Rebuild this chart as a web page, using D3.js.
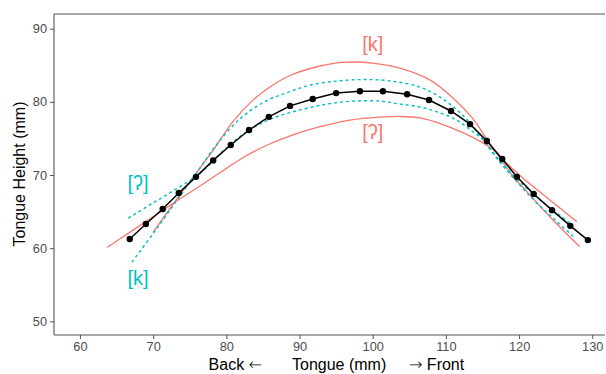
<!DOCTYPE html>
<html>
<head>
<meta charset="utf-8">
<script src="https://cdn.jsdelivr.net/npm/d3@7"></script>
<style>
  body { margin: 0; background: #fff; }
  text { font-family: "Liberation Sans", Arial, sans-serif; }
</style>
</head>
<body>
<div class="canvas"></div>
<script>
// mean tongue contour (black)
var meanCurve = [[66.8,61.25],[69.0,63.3],[71.3,65.35],[73.5,67.55],[75.85,69.75],[78.2,72.0],[80.6,74.1],
  [83.1,76.15],[85.8,77.95],[88.7,79.45],[91.8,80.4],[95.0,81.2],[98.25,81.45],[101.4,81.45],[104.7,81.05],
  [107.7,80.25],[110.7,78.75],[113.3,76.95],[115.6,74.65],[117.7,72.2],[119.7,69.75],[122.0,67.4],
  [124.5,65.2],[127.0,63.05],[129.4,61.1]];

// red pair
var redK = [[70.0,62.2],[73.0,66.4],[76.0,70.4],[78.2,73.4],[80.9,77.3],[83.6,80.2],[85.9,82.0],[88.7,83.6],
  [92.4,84.8],[95.9,85.4],[100.0,85.3],[103.7,84.6],[107.8,83.0],[111.0,80.5],[113.6,77.8],[115.6,74.9],
  [117.4,72.3],[119.2,69.8],[121.0,67.8],[124.2,64.3],[128.3,60.2]];
var redGlottal = [[63.7,60.1],[67.0,62.3],[70.0,64.3],[73.0,66.3],[76.4,68.5],[79.1,70.3],[82.3,72.4],
  [85.6,74.1],[89.1,75.5],[92.8,76.6],[96.9,77.5],[101.0,77.9],[104.0,78.0],[106.5,77.8],[109.6,76.9],
  [112.3,75.8],[114.7,74.6],[116.4,73.5],[117.8,72.1],[120.5,69.6],[124.2,66.6],[127.9,63.6]];

// cyan pair
var cyanK = [[67.1,58.1],[70.0,62.0],[73.0,66.2],[76.0,70.4],[78.7,74.2],[81.9,77.7],[85.2,80.0],[88.4,81.3],
  [91.5,82.3],[95.2,82.85],[98.9,83.05],[102.5,82.85],[106.5,82.0],[109.2,80.65],[111.5,78.9],[113.3,77.1],
  [115.1,74.8],[117.0,72.2],[119.5,69.3],[122.0,66.6],[125.0,63.8],[127.5,61.5]];
var cyanGlottal = [[66.6,64.1],[70.0,66.2],[73.0,68.0],[76.4,70.2],[80.1,73.8],[83.2,76.2],[86.4,77.8],
  [90.1,78.9],[93.8,79.7],[97.3,80.1],[101.0,80.1],[103.7,79.7],[106.5,79.3],[109.2,78.5],[111.5,77.5],
  [113.3,76.2],[115.1,74.8],[117.0,72.4],[119.5,69.7],[122.0,67.3],[124.5,65.3],[127.0,63.4]];

var xTicks = [60, 70, 80, 90, 100, 110, 120, 130];
var yTicks = [50, 60, 70, 80, 90];
var labels = [
  {text: "[k]", x: 100.0, y: 87.77, color: "#F8766D"},
  {text: "[ʔ]", x: 100.0, y: 75.74, color: "#F8766D"},
  {text: "[ʔ]", x: 67.93, y: 68.77, color: "#00BFC4"},
  {text: "[k]", x: 67.93, y: 55.78, color: "#00BFC4"}
];

var width = 606, height = 374;
var mLeft = 54, mRight = 605, mTop = 14, mBottom = 335;

var svg = d3.select(".canvas").append("svg").attr("width", width).attr("height", height);

var x = d3.scaleLinear().domain([56.45, 131.74]).range([mLeft, mRight]);
var y = d3.scaleLinear().domain([48.13, 92.01]).range([mBottom, mTop]);

var xAxis = d3.axisBottom(x).tickValues(xTicks).tickSize(4).tickPadding(3);
var yAxis = d3.axisLeft(y).tickValues(yTicks).tickSize(4).tickPadding(3);

var gx = svg.append("g").attr("transform", "translate(0," + mBottom + ")").call(xAxis);
var gy = svg.append("g").attr("transform", "translate(" + mLeft + ",0)").call(yAxis);
[gx, gy].forEach(function(g) {
  g.select(".domain").remove();
  g.selectAll("line").attr("stroke", "#555");
  g.selectAll("text").attr("fill", "#4D4D4D").style("font-size", "12.8px")
    .style("font-family", '"Liberation Sans", Arial, sans-serif');
});

// axis lines (left, bottom, top)
svg.append("line").attr("x1", mLeft).attr("x2", mLeft).attr("y1", mTop).attr("y2", mBottom)
  .attr("stroke", "#555").attr("stroke-width", 1.1);
svg.append("line").attr("x1", mLeft).attr("x2", mRight).attr("y1", mBottom).attr("y2", mBottom)
  .attr("stroke", "#555").attr("stroke-width", 1.1);
svg.append("line").attr("x1", mLeft).attr("x2", mRight).attr("y1", mTop).attr("y2", mTop)
  .attr("stroke", "#555").attr("stroke-width", 1.1);

var line = d3.line().x(function(d) { return x(d[0]); }).y(function(d) { return y(d[1]); })
  .curve(d3.curveCatmullRom);

[redK, redGlottal].forEach(function(c) {
  svg.append("path").datum(c).attr("d", line).attr("fill", "none")
    .attr("stroke", "#F8766D").attr("stroke-width", 1.3);
});
[cyanK, cyanGlottal].forEach(function(c) {
  svg.append("path").datum(c).attr("d", line).attr("fill", "none")
    .attr("stroke", "#00BFC4").attr("stroke-width", 1.4).attr("stroke-dasharray", "3,3");
});

svg.append("path").datum(meanCurve)
  .attr("d", d3.line().x(function(d) { return x(d[0]); }).y(function(d) { return y(d[1]); }))
  .attr("fill", "none").attr("stroke", "#000").attr("stroke-width", 1.5);
svg.append("g").selectAll("circle").data(meanCurve).enter().append("circle")
  .attr("cx", function(d) { return x(d[0]); })
  .attr("cy", function(d) { return y(d[1]); })
  .attr("r", 3.2).attr("fill", "#000");

svg.append("g").selectAll("text").data(labels).enter().append("text")
  .attr("x", function(d) { return x(d.x); })
  .attr("y", function(d) { return y(d.y); })
  .attr("dy", "0.3em")
  .attr("text-anchor", "middle")
  .attr("fill", function(d) { return d.color; })
  .style("font-size", "20px")
  .text(function(d) { return d.text; });

// axis titles
svg.append("text").attr("transform", "translate(25,174) rotate(-90)")
  .attr("text-anchor", "middle").style("font-size", "16px").text("Tongue Height (mm)");
var back = svg.append("text").attr("x", 262).attr("y", 370).attr("text-anchor", "end")
  .style("font-size", "16px");
back.append("tspan").text("Back ");
back.append("tspan").style("font-family", '"DejaVu Sans"').style("font-weight", 200).text("←");
svg.append("text").attr("x", 292).attr("y", 370)
  .style("font-size", "16px").text("Tongue (mm)");
var front = svg.append("text").attr("x", 409).attr("y", 370).style("font-size", "16px");
front.append("tspan").style("font-family", '"DejaVu Sans"').style("font-weight", 200).text("→");
front.append("tspan").text(" Front");
</script>
</body>
</html>
